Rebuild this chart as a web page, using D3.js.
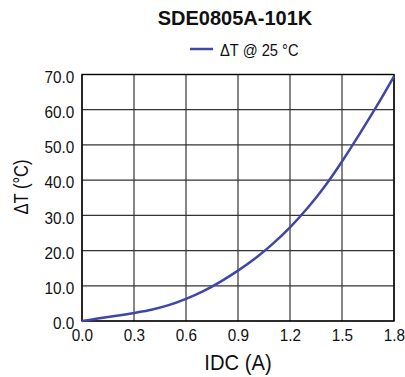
<!DOCTYPE html>
<html>
<head>
<meta charset="utf-8">
<script src="https://cdn.jsdelivr.net/npm/d3@7"></script>
<style>
  body { margin: 0; background: #fff; }
  svg text { font-family: "Liberation Sans", Arial, Helvetica, sans-serif; fill: #111; }
  .title { font-weight: bold; }
</style>
</head>
<body>
<div id="chart"></div>
<script>
// data
const current = [0.0, 0.1, 0.2, 0.3, 0.4, 0.5, 0.6, 0.7, 0.8, 0.9, 1.0, 1.1, 1.2, 1.3, 1.4, 1.5, 1.6, 1.7, 1.8];
const deltaT = [0.0, 0.8, 1.5, 2.3, 3.2, 4.5, 6.3, 8.5, 11.2, 14.3, 17.8, 21.9, 26.6, 32.0, 38.2, 45.3, 53.0, 61.0, 69.5];
const xTicks = [0.0, 0.3, 0.6, 0.9, 1.2, 1.5, 1.8];
const yTicks = [0, 10, 20, 30, 40, 50, 60, 70];
const chartTitle = "SDE0805A-101K";
const seriesName = "\u0394T @ 25 \u00B0C";

const width = 405;
const height = 377;
const margin = {top: 74.5, right: 11, bottom: 56, left: 82};

const svg = d3.select("#chart")
	.append("svg")
		.attr("width", width)
		.attr("height", height);

const x = d3.scaleLinear()
	.domain([0, 1.8])
	.range([margin.left, width - margin.right]);
const y = d3.scaleLinear()
	.domain([0, 70])
	.range([height - margin.bottom, margin.top]);

// grid
svg.append("g")
	.selectAll("line")
	.data(xTicks)
	.join("line")
		.attr("x1", (d) => x(d))
		.attr("x2", (d) => x(d))
		.attr("y1", y(0))
		.attr("y2", y(70))
		.style("stroke", "#333")
		.style("stroke-width", 1.2);
svg.append("g")
	.selectAll("line")
	.data(yTicks)
	.join("line")
		.attr("x1", x(0))
		.attr("x2", x(1.8))
		.attr("y1", (d) => y(d))
		.attr("y2", (d) => y(d))
		.style("stroke", "#333")
		.style("stroke-width", 1.2);

// frame
svg.append("rect")
	.attr("x", x(0))
	.attr("y", y(70))
	.attr("width", x(1.8) - x(0))
	.attr("height", y(0) - y(70))
	.style("fill", "none")
	.style("stroke", "#000")
	.style("stroke-width", 1.4);

// tick labels (slightly condensed, like the original)
const xAxis = d3.axisBottom(x).tickValues(xTicks).tickFormat(d3.format(".1f")).tickSize(0).tickPadding(8);
const yAxis = d3.axisLeft(y).tickValues(yTicks).tickFormat(d3.format(".1f")).tickSize(0).tickPadding(8.5);

svg.append("g")
	.attr("transform", `translate(0,${y(0)})`)
	.call(xAxis)
	.call((g) => g.select(".domain").remove())
	.selectAll("text")
		.attr("transform", "scale(0.9,1)")
		.style("font-size", "17px")
		.style("fill", "#111");
svg.append("g")
	.attr("transform", `translate(${x(0)},0)`)
	.call(yAxis)
	.call((g) => g.select(".domain").remove())
	.selectAll("text")
		.attr("dy", "0.45em")
		.attr("transform", "scale(0.9,1)")
		.style("font-size", "17px")
		.style("fill", "#111");

// line
const line = d3.line()
	.curve(d3.curveMonotoneX)
	.x((d, i) => x(current[i]))
	.y((d) => y(d));

svg.append("path")
	.datum(deltaT)
	.style("fill", "none")
	.style("stroke", "#3f47a6")
	.style("stroke-width", 2.5)
	.attr("d", line);

// titles
svg.append("text")
	.attr("class", "title")
	.attr("x", 235)
	.attr("y", 25)
	.attr("text-anchor", "middle")
	.style("font-size", "20px")
	.text(chartTitle);

svg.append("line")
	.attr("x1", 190)
	.attr("x2", 213)
	.attr("y1", 49)
	.attr("y2", 49)
	.style("stroke", "#3f47a6")
	.style("stroke-width", 2.5);
svg.append("text")
	.attr("transform", "translate(220,56) scale(0.92,1)")
	.style("font-size", "16px")
	.text(seriesName);

svg.append("text")
	.attr("transform", `translate(${(x(0) + x(1.8)) / 2},370) scale(0.92,1)`)
	.attr("text-anchor", "middle")
	.style("font-size", "22px")
	.text("IDC (A)");

svg.append("text")
	.attr("transform", `translate(27.5,187) rotate(-90) scale(0.83,1)`)
	.attr("text-anchor", "middle")
	.style("font-size", "20px")
	.text("\u0394T (\u00B0C)");
</script>
</body>
</html>
